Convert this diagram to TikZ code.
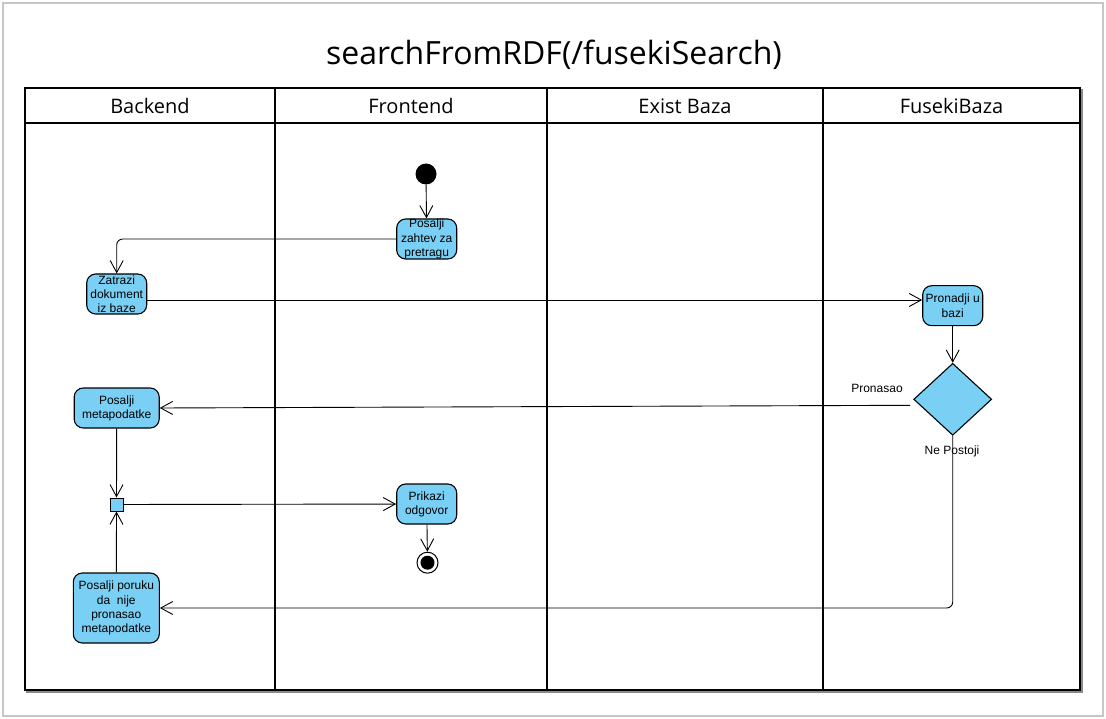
\documentclass[tikz,border=0pt]{standalone}
\usepackage{fontspec}
\setmainfont{Liberation Sans}
\newfontfamily\headFont{Open Sans}
\usepackage{tikz}
\usetikzlibrary{shapes.geometric, arrows.meta}
\definecolor{customBlue}{HTML}{7ACFF5}
\definecolor{customGrey}{HTML}{C6C6C6}
\definecolor{shadowGrey}{HTML}{8A8A8A}

\begin{document}
\begin{tikzpicture} [
    x=1pt, y=-1pt,
    action/.style={rectangle, rounded corners=9pt, draw=black, fill=customBlue, line width=1.1pt, minimum width=60pt, minimum height=40pt, inner xsep=1pt, inner ysep=0pt, align=center, font=\fontsize{12}{14.2}\selectfont},
    decision/.style={diamond, draw=black, fill=customBlue, line width=1.1pt, minimum width=78pt, minimum height=72pt, aspect=1.08, inner sep=0pt},
    joinBar/.style={rectangle, draw=black, fill=customBlue, line width=1pt, minimum size=13pt, inner sep=0pt},
    startNode/.style={circle, fill=black, minimum size=21pt, inner sep=0pt},
    endNode/.style={circle, draw=black, line width=1pt, minimum size=21pt, inner sep=0pt, path picture={\fill (path picture bounding box.center) circle (7pt);}},
    laneHead/.style={anchor=base, font=\headFont\fontsize{20}{21}\selectfont},
    guard/.style={font=\fontsize{12}{14}\selectfont},
    lane/.style={line width=2pt},
    flow/.style={line width=0.9pt, -{Straight Barb[length=12pt, width=13pt]}}
]
    \useasboundingbox (0,0) rectangle (1106,719);
    \draw[customGrey, line width=2pt] (3,3) rectangle (1103,716);
    
    % title
    \node[anchor=base, font=\headFont\fontsize{32}{33}\selectfont] (title) at (554,65) {searchFromRDF(/fusekiSearch)};
    
    % pool
    \draw[shadowGrey, line width=2pt] (27,90) rectangle (1082,692);
    \draw[lane, fill=white] (25,88) rectangle (1080,690);
    \draw[lane] (25,123) -- (1080,123);
    \draw[lane] (275,88) -- (275,690);
    \draw[lane] (547,88) -- (547,690);
    \draw[lane] (823,88) -- (823,690);
    
    \node[laneHead] (backendHead) at (150,114) {Backend};
    \node[laneHead] (frontendHead) at (411,114) {Frontend};
    \node[laneHead] (existHead) at (685,114) {Exist Baza};
    \node[laneHead] (fusekiHead) at (951.5,114) {FusekiBaza};
    
    % frontend
    \node[startNode] (start) at (426,174) {};
    \node[action] (posaljiZahtev) at (426.7,239) {Posalji\\zahtev za\\pretragu};
    \node[action] (prikazi) at (426.7,504) {Prikazi\\odgovor};
    \node[endNode] (end) at (427.5,562.7) {};
    
    % backend
    \node[action] (zatrazi) at (116.7,294) {Zatrazi\\dokument\\iz baze};
    \node[action, minimum width=85pt] (metapodatke) at (116.7,408) {Posalji\\metapodatke};
    \node[joinBar] (join) at (116.5,504.5) {};
    \node[action, minimum width=86pt, minimum height=70pt] (poruka) at (116.3,608) {Posalji poruku\\da\ \ nije\\pronasao\\metapodatke};
    
    % fuseki
    \node[action] (pronadji) at (952.7,305.7) {Pronadji u\\bazi};
    \node[decision] (odluka) at (952.7,399.3) {};
    \node[guard] (pronasaoLabel) at (877,388) {Pronasao};
    \node[guard] (nePostojiLabel) at (952,451.5) {Ne Postoji};
    
    % flows
    \draw[flow] (start) -- (posaljiZahtev);
    \draw[flow, rounded corners=6pt] (posaljiZahtev.west) -| (zatrazi.north);
    \draw[flow] (zatrazi.east |- 0,300) -- (pronadji.west |- 0,300);
    \draw[flow] (pronadji) -- (odluka);
    \draw[flow] ([shift={(-3,6)}]odluka.west) -- (metapodatke.east);
    \draw[flow, rounded corners=6pt] (odluka.south) |- (poruka.east);
    \draw[flow] (metapodatke) -- (join);
    \draw[flow] (poruka) -- (join);
    \draw[flow] (join) -- (prikazi);
    \draw[flow] (prikazi) -- (end);
\end{tikzpicture}
\end{document}
